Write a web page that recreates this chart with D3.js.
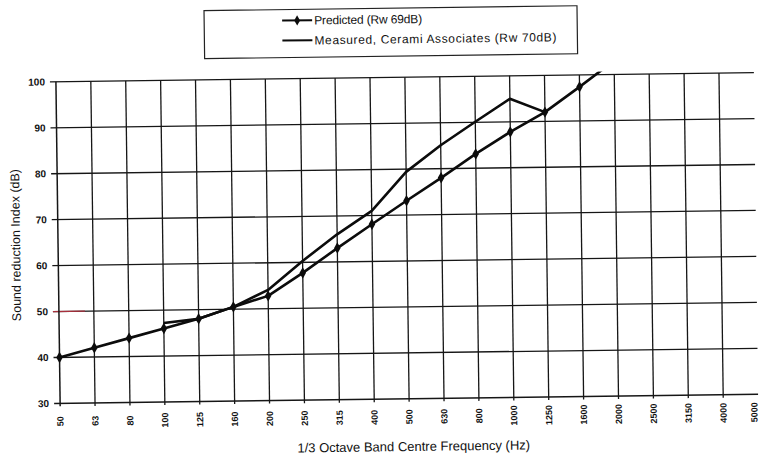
<!DOCTYPE html>
<html>
<head>
<meta charset="utf-8">
<script src="https://cdn.jsdelivr.net/npm/d3@7/dist/d3.min.js"></script>
<style>
  html, body { margin: 0; padding: 0; background: #ffffff; }
  svg { display: block; }
  text { font-family: Arial, "Liberation Sans", sans-serif; fill: #111; }
</style>
</head>
<body>
<svg id="chart" width="762" height="455"></svg>
<script>
// 1/3 octave band centre frequencies (Hz)
const bands = ["50","63","80","100","125","160","200","250","315","400","500",
               "630","800","1000","1250","1600","2000","2500","3150","4000","5000"];
// Predicted sound reduction index (dB), 50 Hz .. 2000 Hz (last point runs off the top)
const predicted = [40, 42, 44, 46, 48, 50.5, 52.8, 57.7, 63, 68.1, 73.1,
                   78, 83.1, 87.8, 92, 97.4, 103];
// Measured sound reduction index (dB), 100 Hz .. 1250 Hz
const measuredBands = ["100","125","160","200","250","315","400","500","630","800","1000","1250"];
const measured = [47.2, 48, 50.5, 54.1, 60.3, 66, 71, 79.4, 85.1, 90.1, 95, 92];
// Value axis ticks
const yTicks = [30, 40, 50, 60, 70, 80, 90, 100];

const legendLabels = ["Predicted (Rw 69dB)", "Measured, Cerami Associates (Rw 70dB)"];
const xTitle = "1/3 Octave Band Centre Frequency (Hz)";
const yTitle = "Sound reduction Index (dB)";

const svg = d3.select("#chart");
const plot = { left: 58, right: 756, top: 77.2, bottom: 398.8 };

// The printed sheet sits slightly askew on the page
const root = svg.append("g").attr("transform", "rotate(-0.75, 407, 238)");

const x = d3.scalePoint().domain(bands).range([plot.left, plot.right]);
const y = d3.scaleLinear().domain([30, 100]).range([plot.bottom, plot.top]);

const ink = "#161616";

// Horizontal gridlines
root.append("g").selectAll("line").data(yTicks).join("line")
  .attr("x1", plot.left - 6).attr("x2", plot.right)
  .attr("y1", d => y(d)).attr("y2", d => y(d))
  .attr("stroke", ink).attr("stroke-width", d => d === 30 ? 1.5 : 1.3);

// Reddish trace on the 50 dB line near the axis
root.append("line")
  .attr("x1", plot.left - 6).attr("x2", plot.left + 26)
  .attr("y1", y(50)).attr("y2", y(50))
  .attr("stroke", "#a8303c").attr("stroke-width", 1.3);

// Vertical gridlines (one per band, the last band sits on the edge)
root.append("g").selectAll("line").data(bands.slice(0, -1)).join("line")
  .attr("x1", d => x(d)).attr("x2", d => x(d))
  .attr("y1", plot.top).attr("y2", plot.bottom + 3)
  .attr("stroke", ink).attr("stroke-width", d => d === "50" ? 1.5 : 1.3);

// Value axis labels
root.append("g").selectAll("text").data(yTicks).join("text")
  .attr("x", plot.left - 11).attr("y", d => y(d))
  .attr("dy", "0.35em").attr("text-anchor", "end")
  .attr("font-size", 10).attr("font-weight", "bold")
  .text(d => d);

// Category axis labels, rotated (the last one is nudged in from the page edge)
const lastBand = bands[bands.length - 1];
root.append("g").selectAll("text").data(bands).join("text")
  .attr("transform", d => `translate(${x(d) - (d === lastBand ? 4 : 0)}, ${plot.bottom + 18}) rotate(-90)`)
  .attr("text-anchor", "middle").attr("dy", "0.35em")
  .attr("font-size", 9).attr("font-weight", "bold")
  .text(d => d);

// Axis titles
root.append("text")
  .attr("x", 411).attr("y", 451)
  .attr("text-anchor", "middle").attr("font-size", 13)
  .text(xTitle);
root.append("text")
  .attr("transform", "translate(20, 240) rotate(-90)")
  .attr("text-anchor", "middle").attr("font-size", 12.5)
  .text(yTitle);

// Clip the series lines just above the plot top
svg.append("defs").append("clipPath").attr("id", "plotClip")
  .append("rect")
  .attr("x", plot.left - 5).attr("y", plot.top - 3)
  .attr("width", plot.right - plot.left + 10).attr("height", plot.bottom - plot.top + 8);

const series = root.append("g").attr("clip-path", "url(#plotClip)");

const line = d3.line().x(d => x(d[0])).y(d => y(d[1]));

const predPts = predicted.map((v, i) => [bands[i], v]);
const measPts = measured.map((v, i) => [measuredBands[i], v]);

series.append("path").datum(measPts)
  .attr("d", line).attr("fill", "none")
  .attr("stroke", "#0c0c0c").attr("stroke-width", 2.6).attr("stroke-linejoin", "round");

series.append("path").datum(predPts)
  .attr("d", line).attr("fill", "none")
  .attr("stroke", "#0c0c0c").attr("stroke-width", 2.6).attr("stroke-linejoin", "round");

// Diamond markers on the predicted curve (inside the plot only)
const diamond = d3.symbol().type(d3.symbolDiamond).size(38);
series.append("g").selectAll("path").data(predPts.filter(p => p[1] <= 100)).join("path")
  .attr("transform", p => `translate(${x(p[0])}, ${y(p[1])})`)
  .attr("d", diamond).attr("fill", "#0c0c0c");

// Legend
const lg = root.append("g");
lg.append("rect")
  .attr("x", 207).attr("y", 8).attr("width", 373).attr("height", 48)
  .attr("fill", "#fff").attr("stroke", "#222").attr("stroke-width", 1.2);
const rows = [19, 39];
const rowWidths = [108, 242];
rows.forEach((ry, i) => {
  lg.append("line").attr("x1", 285).attr("x2", 315).attr("y1", ry).attr("y2", ry)
    .attr("stroke", "#0c0c0c").attr("stroke-width", 2);
  if (i === 0) {
    lg.append("path").attr("transform", `translate(300, ${ry})`)
      .attr("d", d3.symbol().type(d3.symbolDiamond).size(30)).attr("fill", "#0c0c0c");
  }
  lg.append("text").attr("x", 317).attr("y", ry).attr("dy", "0.35em")
    .attr("font-size", 12)
    .attr("textLength", rowWidths[i]).attr("lengthAdjust", "spacing")
    .text(legendLabels[i]);
});
</script>
</body>
</html>
